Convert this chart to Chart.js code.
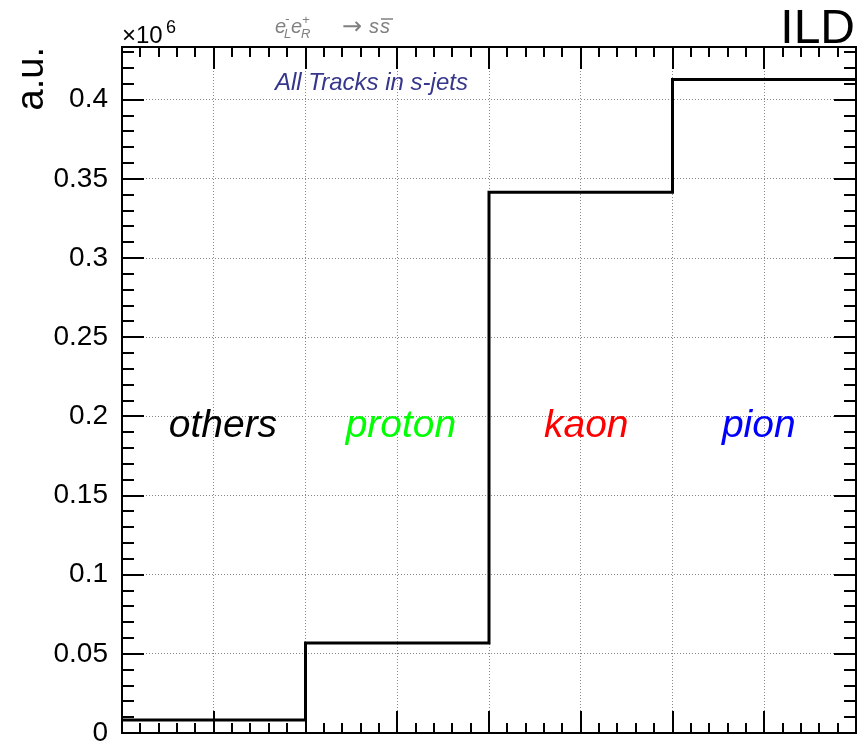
<!DOCTYPE html>
<html lang="en">
<head>
<meta charset="UTF-8">
<title>All Tracks in s-jets</title>
<script src="https://cdn.jsdelivr.net/npm/chart.js@4"></script>
<style>
  html, body { margin: 0; padding: 0; background: #fff; }
</style>
</head>
<body>
<canvas id="chart" width="865" height="746"></canvas>
<script>
// histogram content, in units of 10^6
const categories = ["others", "proton", "kaon", "pion"];
const binEdges = [0, 1, 2, 3, 4];
const counts = [0.0082, 0.0568, 0.3415, 0.4127];
const yTicks = [0, 0.05, 0.1, 0.15, 0.2, 0.25, 0.3, 0.35, 0.4];
const xMajor = [0, 0.5, 1, 1.5, 2, 2.5, 3, 3.5, 4];
const yMax = 0.4333;

const labelColors = ["#000000", "#00ff00", "#ff0000", "#0000ff"];
const labelX = [0.55, 1.52, 2.53, 3.47];
const FONT = "'Liberation Sans', 'DejaVu Sans', Arial, sans-serif";

// step points: each edge carries the bin to its right, the last edge repeats the final bin
const histPoints = binEdges.map((x, i) => ({ x, y: counts[Math.min(i, counts.length - 1)] }));

const rootFrame = {
  id: "rootFrame",
  afterDatasetsDraw(chart) {
    const { ctx, chartArea: a, scales: { x, y } } = chart;
    ctx.save();
    ctx.strokeStyle = "#000";
    ctx.lineWidth = 2;
    ctx.beginPath();
    // x ticks, bottom and top
    for (let i = 0; i <= 40; i++) {
      const px = Math.round(x.getPixelForValue(i / 10));
      const len = i % 5 === 0 ? 22 : 10;
      ctx.moveTo(px, a.bottom); ctx.lineTo(px, a.bottom - len);
      ctx.moveTo(px, a.top); ctx.lineTo(px, a.top + len);
    }
    // y ticks, left and right
    for (let i = 0; i / 100 <= yMax; i++) {
      const py = Math.round(y.getPixelForValue(i / 100));
      const len = i % 5 === 0 ? 22 : 12;
      ctx.moveTo(a.left, py); ctx.lineTo(a.left + len, py);
      ctx.moveTo(a.right, py); ctx.lineTo(a.right - len, py);
    }
    ctx.stroke();
    ctx.strokeRect(a.left, a.top, a.right - a.left, a.bottom - a.top);
    ctx.restore();
  },
  afterDraw(chart) {
    const { ctx, scales: { x, y } } = chart;
    ctx.save();
    ctx.textBaseline = "alphabetic";

    // category labels
    ctx.textAlign = "center";
    ctx.font = "italic 39px " + FONT;
    categories.forEach((c, i) => {
      ctx.fillStyle = labelColors[i];
      ctx.fillText(c, x.getPixelForValue(labelX[i]), y.getPixelForValue(0.187));
    });

    // y axis title
    ctx.fillStyle = "#000";
    ctx.save();
    ctx.translate(43, 47);
    ctx.rotate(-Math.PI / 2);
    ctx.textAlign = "right";
    ctx.font = "38px " + FONT;
    ctx.fillText("a.u.", 0, 0);
    ctx.restore();

    // exponent
    ctx.textAlign = "left";
    ctx.font = "24px " + FONT;
    ctx.fillText("\u00d710", 122, 43);
    ctx.font = "18px " + FONT;
    ctx.fillText("6", 166, 33);

    // ILD
    ctx.textAlign = "right";
    ctx.font = "48px " + FONT;
    ctx.fillText("ILD", 855, 43);

    // process label
    ctx.textAlign = "left";
    ctx.fillStyle = "#808080";
    ctx.font = "italic 20px " + FONT;
    ctx.fillText("e", 275, 33);
    ctx.fillText("e", 291, 33);
    ctx.font = "italic 13px " + FONT;
    ctx.fillText("-", 285, 23);
    ctx.fillText("L", 284, 38);
    ctx.fillText("+", 302, 24);
    ctx.fillText("R", 301, 38);
    ctx.font = "24px 'DejaVu Sans', sans-serif";
    ctx.fillText("\u2192", 342, 34);
    ctx.font = "italic 20px " + FONT;
    ctx.fillText("s", 369, 33);
    ctx.fillText("s", 380, 33);
    ctx.strokeStyle = "#808080";
    ctx.lineWidth = 1.5;
    ctx.beginPath();
    ctx.moveTo(381, 19); ctx.lineTo(393, 19);
    ctx.stroke();

    // subtitle
    ctx.fillStyle = "#36368c";
    ctx.font = "italic 24px " + FONT;
    ctx.fillText("All Tracks in s-jets", 275, 90);
    ctx.restore();
  }
};

new Chart(document.getElementById("chart"), {
  type: "line",
  data: {
    datasets: [{
      data: histPoints,
      stepped: "before",
      borderColor: "#000",
      borderWidth: 3,
      pointRadius: 0,
      fill: false
    }]
  },
  options: {
    responsive: false,
    animation: false,
    devicePixelRatio: 1,
    layout: { padding: { top: 47, right: 9, left: 0, bottom: 0 } },
    plugins: { legend: { display: false }, tooltip: { enabled: false } },
    scales: {
      x: {
        type: "linear",
        min: 0,
        max: 4,
        afterBuildTicks: s => { s.ticks = xMajor.map(v => ({ value: v })); },
        afterFit: s => { s.height = 13; s.paddingLeft = 0; s.paddingRight = 0; },
        ticks: { display: false },
        grid: { color: "#888", lineWidth: 1, drawTicks: false },
        border: { display: false, dash: [1, 2] }
      },
      y: {
        min: 0,
        max: yMax,
        afterBuildTicks: s => { s.ticks = yTicks.map(v => ({ value: v })); },
        afterFit: s => { s.width = 122; s.paddingTop = 0; s.paddingBottom = 0; },
        ticks: {
          color: "#000",
          padding: 14,
          font: { family: FONT, size: 28, lineHeight: 0.9 },
          callback: v => String(+v.toFixed(2))
        },
        grid: { color: "#888", lineWidth: 1, drawTicks: false },
        border: { display: false, dash: [1, 2] }
      }
    }
  },
  plugins: [rootFrame]
});
</script>
</body>
</html>
